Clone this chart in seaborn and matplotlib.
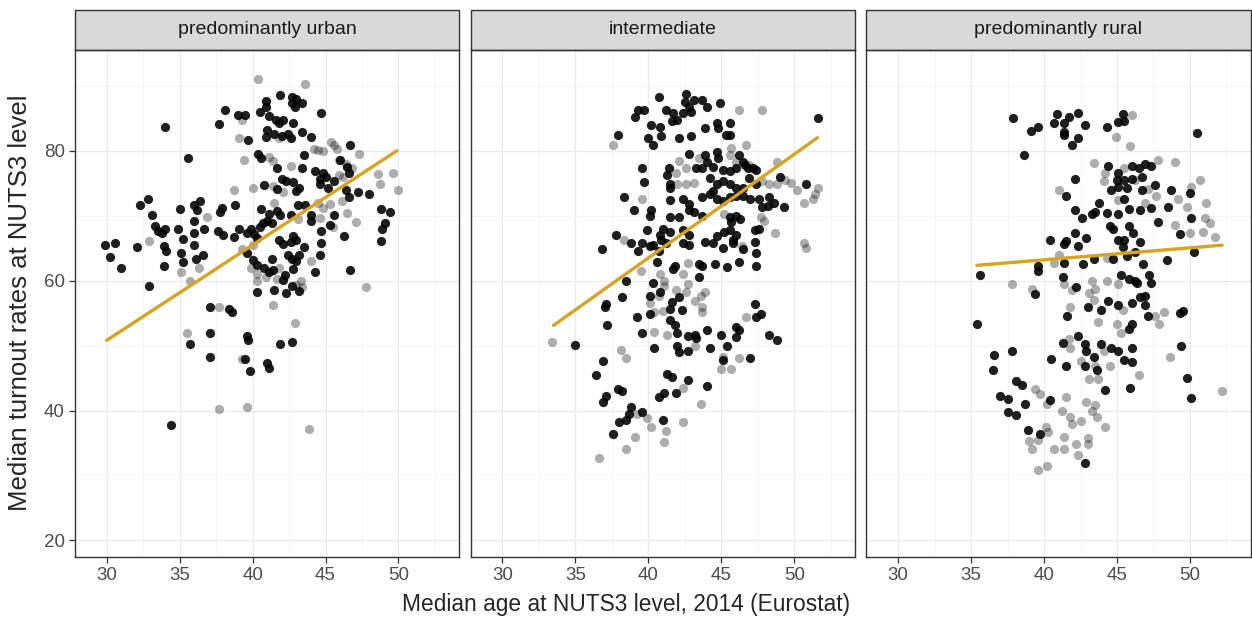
import numpy as np
import pandas as pd
import matplotlib
matplotlib.use("Agg")
import matplotlib.pyplot as plt
from matplotlib.patches import Rectangle
from matplotlib.ticker import MultipleLocator
import seaborn as sns

# values (median age, turnout)
panels = ["predominantly urban", "intermediate", "predominantly rural"]

urban_dark = [
    (41.9, 88.6), (42.7, 88.2), (43.0, 88.0), (42.7, 87.3), (43.4, 87.3), (42.9, 86.7), (40.9, 87.7), (40.9, 86.8),
    (38.1, 86.3), (39.0, 85.5), (39.5, 85.5), (40.5, 86.0), (44.7, 85.8), (41.1, 85.4), (41.6, 84.8), (42.1, 84.8),
    (41.8, 84.2), (42.8, 84.3), (37.7, 84.1), (34.0, 83.6), (41.0, 83.2), (41.5, 82.5), (42.0, 82.3), (42.4, 82.6),
    (43.4, 82.9), (39.7, 81.6), (40.9, 82.1), (42.6, 82.0), (44.0, 82.1), (46.7, 80.9), (40.4, 79.5), (40.6, 78.8),
    (35.6, 78.9), (43.5, 79.3), (46.0, 78.5), (41.7, 77.4), (43.4, 77.4), (44.3, 76.8), (44.8, 76.5), (44.6, 75.6),
    (45.0, 75.9), (46.5, 77.5), (46.6, 76.6), (42.0, 75.6), (42.3, 75.4), (40.8, 74.7), (41.7, 74.1), (43.2, 74.3),
    (42.8, 75.2), (43.0, 73.8), (46.4, 74.0), (46.6, 72.8), (47.2, 73.7), (48.0, 73.3), (44.6, 74.8), (45.2, 74.2),
    (45.6, 75.3), (32.3, 71.6), (32.8, 72.5), (33.1, 70.1), (35.0, 71.0), (36.0, 71.7), (36.2, 70.9), (36.4, 72.2),
    (37.9, 71.2), (37.8, 70.6), (38.8, 71.6), (40.6, 71.0), (41.1, 70.2), (41.7, 70.7), (41.9, 70.1), (43.1, 71.6),
    (42.6, 70.1), (43.6, 71.6), (44.0, 70.1), (44.0, 69.2), (45.6, 70.1), (48.8, 71.0), (49.4, 70.6), (49.1, 68.9),
    (48.9, 68.0), (48.8, 66.1), (45.3, 68.6), (44.7, 67.7), (46.3, 66.9), (44.7, 65.8), (44.6, 64.0), (44.3, 61.3),
    (46.7, 61.7), (33.3, 68.4), (33.5, 67.6), (33.8, 67.3), (34.0, 68.0), (29.9, 65.5), (30.6, 65.8), (30.2, 63.7),
    (31.0, 61.9), (32.1, 65.1), (33.9, 65.4), (34.1, 64.6), (33.9, 62.2), (32.9, 59.1), (34.9, 68.0), (35.2, 66.4),
    (35.1, 64.3), (35.2, 62.8), (36.0, 69.2), (36.0, 67.3), (36.0, 65.5), (36.1, 63.3), (36.6, 63.9), (36.7, 68.0),
    (37.6, 67.6), (38.0, 67.0), (38.7, 66.7), (39.1, 68.0), (39.6, 67.4), (39.9, 68.0), (40.1, 67.1), (40.3, 66.6),
    (40.7, 68.9), (41.0, 69.1), (41.3, 68.9), (40.5, 68.2), (39.6, 64.2), (40.0, 63.2), (40.3, 62.4), (40.8, 62.0),
    (41.1, 61.3), (40.3, 58.2), (41.5, 58.5), (41.3, 63.3), (41.4, 61.6), (41.8, 66.3), (42.1, 65.6), (42.6, 65.9),
    (42.8, 66.8), (43.0, 66.2), (42.4, 63.9), (42.7, 63.3), (43.0, 63.0), (42.2, 60.9), (42.1, 60.1), (42.3, 58.1),
    (42.8, 61.8), (42.7, 59.2), (43.2, 58.4), (43.5, 65.1), (43.2, 63.9), (37.1, 55.9), (38.4, 55.7), (38.6, 55.1),
    (37.1, 52.0), (35.7, 50.2), (37.1, 48.2), (39.6, 51.5), (39.7, 50.9), (39.5, 48.0), (39.8, 46.1), (41.0, 47.3),
    (41.1, 46.6), (41.9, 50.2), (42.7, 50.6), (34.4, 37.8),
]
urban_light = [
    (40.4, 91.1), (43.6, 90.3), (39.3, 84.8), (39.1, 82.0), (41.8, 82.0), (45.4, 81.3), (45.6, 80.8), (45.8, 80.2),
    (44.2, 80.3), (44.5, 80.1), (44.8, 79.9), (41.1, 79.0), (41.4, 78.4), (39.4, 78.6), (47.3, 79.5), (45.9, 78.5),
    (46.4, 78.0), (46.8, 77.4), (42.6, 77.6), (45.9, 76.3), (46.2, 75.9), (48.6, 76.4), (49.6, 76.6), (50.0, 74.0),
    (48.7, 74.8), (41.4, 74.5), (42.1, 73.6), (44.5, 72.0), (44.8, 71.1), (46.1, 72.2), (45.3, 71.8), (46.5, 70.4),
    (47.1, 69.0), (36.9, 69.8), (44.6, 69.7), (45.5, 68.2), (32.9, 66.1), (35.1, 61.3), (36.3, 62.0), (35.7, 60.0),
    (39.3, 64.8), (39.9, 62.0), (40.3, 61.0), (40.3, 59.9), (40.9, 60.5), (41.7, 60.2), (43.0, 59.3), (43.4, 59.0),
    (43.3, 60.0), (41.4, 56.3), (37.7, 55.9), (35.5, 52.0), (39.3, 48.0), (42.9, 53.4), (37.7, 40.2), (39.6, 40.5),
    (43.9, 37.1), (47.8, 59.0), (41.8, 62.0), (40.0, 65.5), (44.0, 63.0), (43.1, 69.5), (41.5, 72.0), (38.7, 73.9),
    (40.0, 74.2),
]

inter_dark = [
    (40.7, 88.3), (42.6, 88.7), (43.1, 87.8), (42.5, 87.5), (43.7, 87.8), (44.9, 87.4), (42.8, 86.8), (42.9, 86.0),
    (42.4, 85.8), (44.0, 86.8), (51.6, 85.1), (39.3, 86.3), (39.7, 86.3), (39.1, 85.2), (41.2, 86.3), (41.7, 85.8),
    (42.0, 84.8), (41.6, 84.5), (43.9, 83.5), (44.7, 84.3), (44.8, 83.5), (45.6, 84.3), (40.2, 83.9), (40.8, 83.7),
    (40.0, 82.0), (40.3, 80.8), (40.9, 82.3), (42.1, 82.0), (42.9, 82.3), (37.9, 82.4), (45.3, 82.4), (45.6, 82.4),
    (42.8, 79.5), (43.9, 79.3), (44.7, 79.8), (44.8, 78.8), (46.2, 79.3), (46.5, 78.3), (44.0, 78.3), (39.6, 77.4),
    (41.4, 77.4), (43.3, 77.3), (43.7, 77.3), (44.4, 77.5), (45.1, 77.0), (45.6, 76.8), (46.0, 77.3), (46.6, 77.8),
    (46.8, 77.3), (47.2, 77.3), (47.4, 77.0), (41.3, 76.3), (39.7, 75.2), (41.5, 74.8), (41.5, 74.3), (44.2, 75.8),
    (44.7, 74.8), (44.4, 73.8), (45.1, 75.3), (45.6, 74.8), (46.0, 74.3), (46.5, 74.3), (46.9, 75.8), (47.4, 74.8),
    (49.0, 76.0), (50.8, 74.8), (38.3, 72.9), (41.5, 72.4), (42.4, 72.5), (42.8, 71.8), (43.7, 72.8), (44.2, 73.3),
    (44.7, 72.5), (45.1, 72.3), (45.6, 72.8), (46.0, 73.0), (46.5, 73.0), (47.0, 72.5), (47.6, 72.5), (48.3, 72.8),
    (48.6, 72.0), (47.8, 71.3), (48.2, 71.5), (49.3, 71.3), (39.0, 70.9), (40.2, 70.9), (40.1, 70.0), (41.5, 69.8),
    (42.1, 69.8), (42.8, 70.8), (43.1, 70.5), (43.7, 70.0), (45.6, 69.8), (46.0, 70.0), (46.3, 69.5), (45.7, 69.0),
    (39.9, 67.8), (41.0, 68.0), (41.5, 67.5), (40.8, 67.0), (42.4, 67.8), (42.8, 67.0), (44.7, 66.8), (45.2, 67.5),
    (45.6, 67.8), (46.0, 67.0), (45.8, 66.3), (47.3, 67.8), (47.6, 67.9), (37.8, 67.0), (38.8, 65.8), (39.6, 65.8),
    (40.3, 65.5), (40.9, 66.3), (41.2, 65.8), (42.4, 65.8), (42.8, 65.5), (43.9, 65.9), (44.4, 65.8), (45.1, 65.0),
    (45.8, 65.8), (47.3, 65.9), (36.8, 64.9), (39.3, 64.5), (40.1, 65.3), (47.4, 64.3), (40.7, 64.5), (46.5, 64.8),
    (40.6, 62.8), (41.8, 62.3), (41.7, 61.8), (43.5, 62.5), (43.7, 62.2), (44.6, 62.5), (45.4, 62.1), (46.2, 62.8),
    (47.4, 62.3), (38.5, 60.0), (40.3, 59.7), (43.5, 60.5), (38.2, 57.5), (40.1, 57.7), (40.8, 58.2), (42.1, 57.4),
    (41.6, 56.7), (41.5, 55.6), (42.3, 55.4), (40.1, 54.9), (37.1, 56.4), (37.0, 55.9), (39.2, 54.4), (37.2, 53.1),
    (41.5, 53.9), (41.8, 53.1), (47.3, 56.4), (47.4, 54.4), (47.7, 54.9), (39.6, 51.9), (42.0, 51.9), (42.7, 51.5),
    (43.3, 51.2), (43.2, 51.7), (44.0, 52.4), (45.0, 51.7), (46.0, 52.8), (46.2, 52.4), (46.0, 51.3), (48.3, 51.7),
    (48.8, 50.9), (35.0, 50.1), (40.4, 49.6), (42.0, 49.9), (42.1, 49.0), (42.7, 49.2), (44.2, 49.6), (45.4, 50.0),
    (36.9, 47.7), (45.1, 47.8), (47.0, 48.1), (36.4, 45.4), (41.3, 45.6), (41.6, 45.2), (42.7, 44.7), (44.0, 43.8),
    (37.9, 43.3), (38.2, 43.0), (37.1, 42.2), (36.9, 41.3), (40.7, 42.1), (41.1, 42.7), (41.9, 42.7), (38.8, 40.6),
    (38.7, 39.4), (39.6, 39.7), (41.0, 38.5), (38.0, 38.2), (38.5, 38.5), (37.6, 36.4),
]
inter_light = [
    (46.2, 86.3), (47.8, 86.2), (37.6, 80.8), (46.7, 80.9), (45.7, 80.4), (45.6, 79.3), (46.0, 78.3), (42.1, 78.4),
    (43.5, 78.8), (42.6, 77.3), (41.9, 76.5), (48.8, 78.3), (42.0, 74.8), (42.6, 74.8), (43.1, 75.0), (47.8, 75.3),
    (48.3, 74.8), (48.8, 74.8), (49.4, 75.5), (49.8, 75.0), (50.2, 74.0), (51.6, 74.2), (51.4, 73.3), (51.3, 72.5),
    (50.7, 72.0), (39.6, 72.5), (45.2, 70.3), (47.7, 69.8), (47.9, 69.2), (48.7, 67.4), (38.3, 66.3), (50.7, 65.8),
    (50.8, 65.0), (46.4, 65.3), (46.9, 77.8), (39.5, 61.5), (40.8, 61.0), (41.1, 60.0), (41.1, 59.2), (42.7, 59.5),
    (42.6, 58.2), (42.4, 61.0), (42.7, 62.7), (41.9, 58.5), (40.1, 56.5), (40.7, 57.7), (41.0, 55.3), (40.4, 55.1),
    (43.2, 56.9), (43.6, 57.7), (43.9, 58.2), (43.7, 55.9), (43.7, 55.1), (46.7, 54.4), (40.4, 52.1), (41.3, 51.7),
    (33.4, 50.6), (38.1, 49.3), (43.2, 49.9), (38.5, 48.1), (45.1, 48.2), (46.2, 48.1), (45.0, 46.4), (45.7, 46.4),
    (42.4, 43.5), (43.6, 41.0), (39.2, 39.4), (39.9, 38.9), (40.2, 37.4), (42.4, 38.3), (41.2, 36.9), (39.1, 35.9),
    (41.1, 35.1), (38.5, 34.1), (36.6, 32.7),
]

rural_dark = [
    (37.9, 85.0), (40.9, 85.6), (41.7, 85.2), (42.3, 85.8), (40.7, 84.3), (41.4, 84.2), (41.4, 82.9), (41.4, 82.4),
    (41.9, 80.9), (42.3, 81.9), (42.8, 83.9), (39.1, 83.1), (39.6, 83.7), (44.3, 83.7), (45.1, 84.4), (45.4, 85.7),
    (45.5, 84.6), (50.5, 82.7), (38.6, 79.3), (44.4, 77.6), (45.1, 76.6), (46.0, 77.6), (46.5, 77.3), (46.9, 78.0),
    (47.3, 77.6), (42.1, 75.6), (45.0, 75.5), (45.1, 74.4), (45.5, 75.5), (46.0, 75.6), (46.7, 76.0), (47.6, 74.7),
    (41.5, 73.0), (44.6, 74.0), (45.7, 74.2), (46.7, 74.0), (50.0, 73.5), (45.5, 72.6), (43.8, 71.9), (42.1, 70.9),
    (43.3, 70.3), (43.5, 70.5), (42.6, 69.6), (44.3, 70.4), (45.1, 70.2), (45.8, 71.0), (46.6, 70.9), (47.3, 71.2),
    (48.5, 71.4), (50.1, 69.6), (44.5, 68.4), (44.7, 67.9), (45.8, 68.4), (46.1, 67.4), (42.1, 67.4), (40.4, 66.2),
    (41.4, 65.6), (41.5, 66.1), (42.3, 65.3), (42.9, 66.6), (45.1, 66.3), (45.5, 66.3), (45.4, 65.1), (46.6, 65.9),
    (46.2, 64.4), (49.3, 67.1), (50.3, 64.4), (41.4, 62.7), (43.4, 63.4), (44.7, 63.4), (45.7, 63.8), (42.7, 62.5),
    (46.8, 62.5), (48.4, 63.1), (39.6, 62.2), (47.8, 69.0), (48.7, 74.0), (35.6, 60.9), (39.6, 61.5), (39.4, 57.9),
    (41.3, 60.5), (42.2, 59.0), (45.3, 60.9), (45.8, 60.3), (46.2, 60.0), (46.4, 59.7), (47.2, 60.8), (47.3, 59.6),
    (43.0, 56.0), (43.9, 55.5), (44.4, 56.9), (45.1, 56.3), (46.0, 56.5), (46.6, 57.5), (46.9, 57.7), (46.9, 56.2),
    (47.1, 54.6), (49.3, 55.0), (49.5, 55.3), (41.6, 54.6), (35.4, 53.3), (45.8, 52.6), (46.0, 53.3), (42.3, 51.4),
    (41.3, 50.4), (42.8, 50.3), (42.9, 49.2), (43.4, 48.3), (43.9, 50.3), (44.6, 49.6), (45.1, 49.1), (46.0, 49.7),
    (49.4, 50.0), (36.6, 48.5), (37.8, 49.2), (40.5, 48.0), (41.5, 46.8), (42.8, 46.9), (43.6, 46.2), (45.5, 47.8),
    (46.0, 47.4), (36.5, 46.2), (49.8, 45.0), (38.1, 44.6), (38.5, 43.9), (44.2, 43.2), (45.9, 43.5), (37.0, 42.3),
    (37.5, 41.7), (40.4, 41.6), (50.1, 41.9), (38.7, 41.0), (37.5, 39.7), (38.1, 39.3), (38.9, 37.0), (39.7, 36.4),
    (42.8, 31.9),
]
rural_light = [
    (46.0, 85.5), (44.9, 82.1), (45.9, 80.7), (43.4, 78.1), (44.2, 76.6), (45.5, 77.3), (47.8, 78.6), (49.0, 78.3),
    (44.1, 75.3), (41.0, 74.0), (47.1, 74.1), (50.7, 75.5), (50.1, 74.4), (46.9, 72.0), (47.7, 73.0), (49.2, 72.5),
    (49.8, 71.4), (51.1, 71.9), (51.0, 69.6), (51.4, 68.9), (49.0, 68.6), (50.0, 67.4), (50.9, 67.5), (51.7, 66.7),
    (41.0, 63.9), (40.7, 62.7), (44.3, 63.5), (46.2, 75.5), (45.1, 72.4), (37.8, 59.4), (39.2, 58.7), (41.4, 59.5),
    (41.9, 58.5), (43.3, 60.0), (43.5, 58.7), (43.1, 58.1), (43.4, 57.0), (44.3, 60.0), (45.1, 59.4), (41.8, 56.0),
    (45.4, 55.5), (47.6, 54.6), (48.2, 55.1), (47.9, 53.3), (43.7, 53.6), (45.0, 53.3), (45.3, 51.9), (41.8, 49.7),
    (41.7, 51.0), (44.1, 49.2), (48.6, 48.2), (42.5, 47.7), (43.5, 46.9), (44.5, 46.9), (46.5, 45.5), (43.1, 44.9),
    (43.7, 44.9), (39.4, 43.3), (39.7, 42.5), (40.2, 41.0), (52.2, 43.0), (41.5, 42.1), (41.2, 40.0), (42.9, 41.3),
    (43.5, 40.8), (43.3, 40.0), (43.6, 39.0), (41.8, 39.0), (41.9, 38.0), (42.5, 38.4), (44.2, 37.4), (40.1, 37.4),
    (40.3, 36.7), (39.0, 35.3), (39.6, 35.4), (39.2, 34.0), (41.4, 35.9), (40.7, 34.1), (41.4, 34.1), (43.0, 35.8),
    (43.0, 34.8), (42.2, 34.9), (42.3, 33.2), (40.2, 31.4), (39.6, 30.8),
]

# fitted lines: start / end of each panel's line
fit_x0 = [30.0, 33.5, 35.4]
fit_x1 = [49.9, 51.6, 52.2]
fit_y0 = [50.8, 53.1, 62.35]
fit_y1 = [80.0, 82.0, 65.45]

x_ticks = [30, 35, 40, 45, 50]
y_ticks = [20, 40, 60, 80]

rows = []
for name, dark, light in [(panels[0], urban_dark, urban_light),
                          (panels[1], inter_dark, inter_light),
                          (panels[2], rural_dark, rural_light)]:
    rows += [(name, x, y, "dark") for x, y in dark]
    rows += [(name, x, y, "light") for x, y in light]
df = pd.DataFrame(rows, columns=["region", "age", "turnout", "shade"])

sns.set_theme(style="white")
plt.rcParams["font.family"] = ["Liberation Sans", "DejaVu Sans"]

W, H = 1252, 619
fig, axes = plt.subplots(1, 3, figsize=(W / 100, H / 100), dpi=100, sharey=True)
fig.subplots_adjust(left=75 / W, right=1250.5 / W, top=1 - 50 / H,
                    bottom=1 - 557 / H, wspace=0.0305)

for i, (ax, name) in enumerate(zip(axes, panels)):
    sub = df[df["region"] == name]
    sns.scatterplot(data=sub[sub["shade"] == "light"], x="age", y="turnout", ax=ax,
                    color="black", alpha=0.32, s=44, linewidth=0, zorder=3)
    sns.scatterplot(data=sub[sub["shade"] == "dark"], x="age", y="turnout", ax=ax,
                    color="black", alpha=0.88, s=44, linewidth=0, zorder=3)
    sns.lineplot(x=[fit_x0[i], fit_x1[i]], y=[fit_y0[i], fit_y1[i]], ax=ax,
                 color="#D8A420", linewidth=2.4, zorder=4)

    ax.set_xlim(27.83, 54.15)
    ax.set_ylim(17.45, 95.5)
    ax.set_xticks(x_ticks)
    ax.set_yticks(y_ticks)
    ax.xaxis.set_minor_locator(MultipleLocator(2.5))
    ax.yaxis.set_minor_locator(MultipleLocator(10))
    ax.grid(which="major", color="#EBEBEB", linewidth=0.9, zorder=0)
    ax.grid(which="minor", color="#F2F2F2", linewidth=0.5, zorder=0)
    ax.set_axisbelow(True)
    ax.set_xlabel("")
    ax.set_ylabel("")
    for sp in ax.spines.values():
        sp.set_color("#333333")
        sp.set_linewidth(1.0)
    ax.tick_params(which="major", length=4.2, width=0.9, color="#333333", pad=3,
                   labelsize=13.5, labelcolor="#4D4D4D", bottom=True, left=(i == 0))
    ax.tick_params(which="minor", length=0)

    # facet strip
    strip_h = 40 / 507
    ax.add_patch(Rectangle((0, 1), 1, strip_h, transform=ax.transAxes, clip_on=False,
                           facecolor="#D9D9D9", edgecolor="#333333", linewidth=1.0))
    ax.text(0.5, 1 + strip_h / 2, name, transform=ax.transAxes, ha="center",
            va="center", fontsize=14, color="#1A1A1A")

fig.text(0.5, 1 - 605 / H, "Median age at NUTS3 level, 2014 (Eurostat)",
         ha="center", va="center", fontsize=16.4)
fig.text(20 / W, 1 - 303 / H, "Median turnout rates at NUTS3 level",
         ha="center", va="center", rotation=90, fontsize=18.5)

fig.savefig("out.png", dpi=100)
